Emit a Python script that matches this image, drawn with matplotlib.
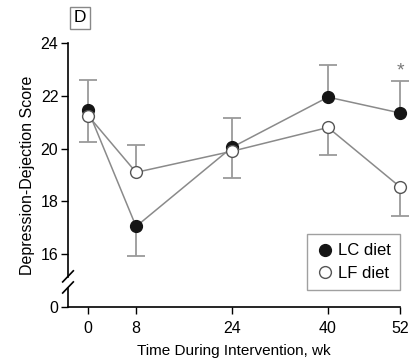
import numpy as np
import matplotlib.pyplot as plt
from matplotlib.lines import Line2D

plt.rcParams['font.family'] = ['Liberation Sans', 'DejaVu Sans']

# data
weeks = [0, 8, 24, 40, 52]
lc_diet = [21.45, 17.05, 20.05, 21.95, 21.35]
lf_diet = [21.25, 19.1, 19.9, 20.8, 18.55]
# end of each (one-sided) error bar
lc_bar_end = [22.6, 15.95, 21.15, 23.15, 22.55]
lf_bar_end = [20.25, 20.15, 18.9, 19.75, 17.45]
y_ticks = [14, 16, 18, 20, 22, 24]
y_labels = ['0', '16', '18', '20', '22', '24']

fig = plt.figure(figsize=(4.1, 3.61), dpi=100)
ax = fig.add_axes([68/410, 1-307/361, 332/410, 264/361])

line_col = '#8a8a8a'
bar_col = '#9a9a9a'

for vals, ends in [(lc_diet, lc_bar_end), (lf_diet, lf_bar_end)]:
    ax.vlines(weeks, vals, ends, color=bar_col, lw=1.3, zorder=1, clip_on=False)
    ax.plot(weeks, ends, ls='none', marker='_', ms=13, mew=1.3, color=bar_col,
            zorder=1, clip_on=False)

ax.plot(weeks, lc_diet, color=line_col, lw=1.1, marker='o', ms=8.5,
        mfc='#151515', mec='#151515', zorder=3, clip_on=False)
ax.plot(weeks, lf_diet, color=line_col, lw=1.1, marker='o', ms=8.5,
        mfc='white', mec='#555555', mew=1.0, zorder=3, clip_on=False)

ax.text(52, 22.95, '*', ha='center', va='center', fontsize=14, color='#777777')

ax.set_xlim(-3.35, 52)
ax.set_ylim(14, 24)
ax.set_xticks(weeks)
ax.set_yticks(y_ticks)
ax.set_yticklabels(y_labels)
ax.tick_params(labelsize=11.5, length=5, width=1.0, pad=2)
ax.tick_params(axis='x', pad=5)

for s in ['top', 'right', 'left']:
    ax.spines[s].set_visible(False)
ax.spines['bottom'].set_linewidth(1.2)

# broken left axis
kw = dict(transform=ax.transAxes, color='black', lw=1.2, clip_on=False)
ax.plot([0, 0], [0.115, 1.0], **kw)
ax.plot([0, 0], [0.0, 0.072], **kw)
ax.plot([-0.016, 0.016], [0.095, 0.137], **kw)
ax.plot([-0.016, 0.016], [0.053, 0.095], **kw)

ax.set_xlabel('Time During Intervention, wk', fontsize=11, labelpad=6)
ax.set_ylabel('Depression-Dejection Score', fontsize=11.5, labelpad=4)

handles = [
    Line2D([], [], ls='none', marker='o', ms=8.5, mfc='#151515', mec='#151515'),
    Line2D([], [], ls='none', marker='o', ms=8.5, mfc='white', mec='#555555'),
]
leg = ax.legend(handles, ['LC diet', 'LF diet'], loc='lower right',
                bbox_to_anchor=(1.0, 0.064), borderaxespad=0, fontsize=12,
                frameon=True, fancybox=False, edgecolor='#888888',
                handletextpad=0.3, handlelength=1.0, borderpad=0.55,
                labelspacing=0.45)
leg.get_frame().set_linewidth(1.0)

fig.text(80/410, 1-18/361, 'D', ha='center', va='center', fontsize=12.5,
         bbox=dict(boxstyle='square,pad=0.22', fc='white', ec='#888888', lw=1.0))

fig.savefig('out.png', dpi=100)
